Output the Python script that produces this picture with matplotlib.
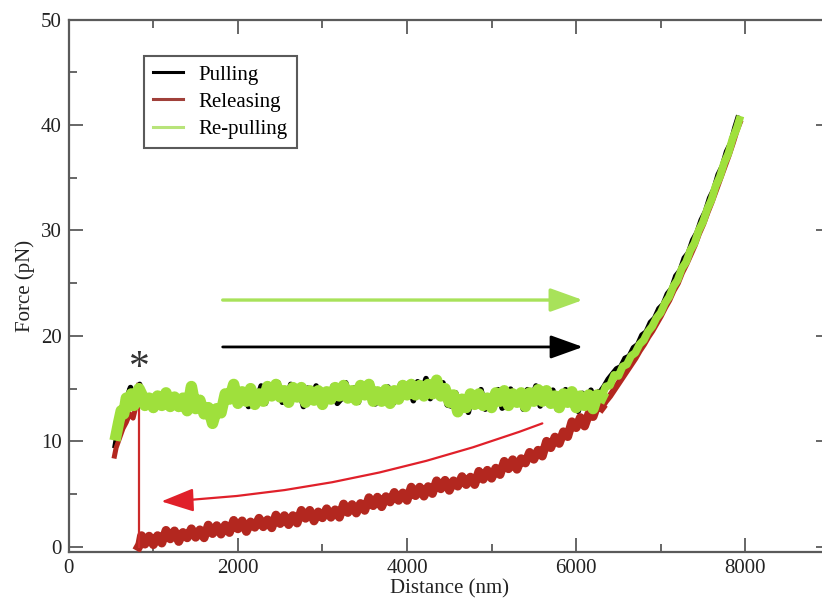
import matplotlib
matplotlib.use("Agg")
import matplotlib.pyplot as plt
from matplotlib.patches import ArrowStyle

plt.rcParams['font.family'] = ['Liberation Serif', 'DejaVu Serif']

# ---------------- data ----------------
pull_x = [550, 600, 650, 700, 730, 760, 800, 838, 870, 950, 1050, 1150, 1250, 1350, 1450, 1550, 1650, 1700, 1800, 1900,
          1925, 1975, 2025, 2075, 2125, 2175, 2225, 2275, 2325, 2375, 2425, 2475, 2525, 2575, 2625, 2675, 2725, 2775,
          2825, 2875, 2925, 2975, 3025, 3075, 3125, 3175, 3225, 3275, 3325, 3375, 3425, 3475, 3525, 3575, 3625, 3675,
          3725, 3775, 3825, 3875, 3925, 3975, 4025, 4075, 4125, 4175, 4225, 4275, 4325, 4375, 4425, 4475, 4525, 4575,
          4625, 4675, 4725, 4775, 4825, 4875, 4925, 4975, 5025, 5075, 5125, 5175, 5225, 5275, 5325, 5375, 5425, 5475,
          5525, 5575, 5625, 5675, 5725, 5775, 5825, 5875, 5925, 5975, 6025, 6075, 6125, 6175, 6225, 6275,
          6325, 6375, 6425, 6475, 6525, 6575, 6625, 6675, 6725, 6775, 6825, 6875, 6925, 6975, 7025, 7075, 7125, 7175,
          7225, 7275, 7325, 7375, 7425, 7475, 7525, 7575, 7625, 7675, 7725, 7775, 7825, 7875, 7910]
pull_y = [9.6, 11.9, 13.0, 14.4, 15.1, 13.6, 14.2, 15.4, 13.8, 13.9, 13.8, 13.9, 13.8, 13.6, 14.3, 13.3, 12.7, 12.3, 13.3, 14.2,
          13.85, 15.3, 13.85, 14.75, 13.3, 15.05, 13.95, 15.25, 13.6, 14.95, 14.2, 15.55, 13.7, 13.85, 15.4, 14.15, 14.9, 13.3,
          15.05, 14.05, 15.25, 13.45, 14.75, 13.95, 15.25, 13.6, 14.05, 15.55, 14.15, 15.05, 13.7, 15.45, 14.35, 15.5, 13.55, 14.65,
          13.75, 15.15, 13.55, 13.9, 15.45, 14.25, 15.25, 13.85, 15.65, 14.7, 15.95, 14.05, 15.3, 14.45, 15.55, 13.45, 13.35, 14.6,
          13.25, 14.2, 12.75, 14.5, 13.55, 14.9, 13.05, 14.25, 13.5, 14.9, 13.15, 13.4, 14.95, 13.7, 14.55, 13.05, 14.9, 14.0,
          15.25, 13.35, 14.55, 13.65, 14.85, 13.05, 13.35, 14.9, 13.55, 14.35, 12.85, 14.55, 13.5, 14.85, 13.2, 14.65,
          15.2, 15.9, 16.4, 16.9, 17.1, 17.9, 18.1, 18.9, 19.2, 20.1, 20.4, 21.3, 21.7, 22.6, 23.0, 24.0, 24.5, 25.7,
          26.2, 27.4, 27.9, 29.1, 29.8, 31.0, 31.8, 33.1, 33.9, 35.3, 36.1, 37.5, 38.3, 39.8, 40.7]

rel_x = [7930, 7900, 7850, 7800, 7750, 7700, 7650, 7600, 7550, 7500, 7450, 7400, 7350, 7300, 7250, 7200, 7150, 7100,
         7050, 7000, 6950, 6900, 6850, 6800, 6750, 6700, 6650, 6600, 6550, 6500, 6450, 6400, 6350, 6300,
         6250, 6200, 6150, 6100, 6050, 6000, 5950, 5900, 5850, 5800, 5750, 5700, 5650, 5600, 5550, 5500, 5450, 5400,
         5350, 5300, 5250, 5200, 5150, 5100, 5050, 5000, 4950, 4900, 4850, 4800, 4750, 4700, 4650, 4600, 4550, 4500,
         4450, 4400, 4350, 4300, 4250, 4200, 4150, 4100, 4050, 4000, 3950, 3900, 3850, 3800, 3750, 3700, 3650, 3600,
         3550, 3500, 3450, 3400, 3350, 3300, 3250, 3200, 3150, 3100, 3050, 3000, 2950, 2900, 2850, 2800, 2750, 2700,
         2650, 2600, 2550, 2500, 2450, 2400, 2350, 2300, 2250, 2200, 2150, 2100, 2050, 2000, 1950, 1900, 1850, 1800,
         1750, 1700, 1650, 1600, 1550, 1500, 1450, 1400, 1350, 1300, 1250, 1200, 1150, 1100, 1050, 1000, 950, 900,
         860, 840, 826, 826, 800, 760, 720, 680, 640, 600, 560, 540]
rel_y = [40.2, 39.6, 38.3, 37.1, 36.0, 34.9, 33.8, 32.7, 31.7, 30.6, 29.7, 28.6, 27.7, 26.8, 26.0, 25.0, 24.3, 23.4,
         22.7, 21.9, 21.2, 20.5, 19.9, 19.2, 18.6, 17.9, 17.3, 16.7, 16.1, 15.5, 14.9, 14.3, 13.8, 13.2,
         13.5, 12.35, 12.6, 11.45, 12.25, 11.3, 11.85, 10.45, 10.9, 9.8, 10.4, 9.4, 10.0, 8.6, 9.15, 8.3, 8.95, 7.95,
         8.35, 7.35, 8.25, 7.4, 8.1, 6.85, 7.45, 6.5, 7.25, 6.4, 7.15, 5.9, 6.6, 5.9, 6.65, 5.75, 6.25, 5.35,
         6.3, 5.5, 6.25, 5.05, 5.7, 4.8, 5.65, 4.85, 5.65, 4.4, 5.1, 4.4, 5.15, 4.25, 4.75, 3.8, 4.7, 3.9,
         4.65, 3.45, 4.1, 3.2, 4.0, 3.25, 4.05, 2.8, 3.5, 2.8, 3.6, 2.75, 3.3, 2.45, 3.45, 2.7, 3.45, 2.25,
         2.95, 2.1, 2.95, 2.2, 3.0, 1.8, 2.55, 1.9, 2.7, 1.85, 2.35, 1.45, 2.45, 1.7, 2.5, 1.35, 2.05, 1.2,
         2.0, 1.25, 2.05, 0.85, 1.6, 0.9, 1.7, 0.85, 1.35, 0.5, 1.5, 0.75, 1.55, 0.35, 1.05, 0.2, 1.0, 0.25,
         1.05, 0.2, 0.0, 15.3, 13.5, 12.2, 12.6, 11.8, 11.2, 10.3, 9.4, 8.6]

repull_x = [560, 590, 620, 650, 680, 710, 740, 770, 800, 830, 860, 900, 950, 1000, 1050, 1100, 1150, 1200, 1250, 1300,
            1350, 1400, 1450, 1500, 1550, 1600, 1650, 1700, 1750, 1800, 1850, 1900, 1950, 2000, 2050, 2100, 2150,
            2200, 2250, 2300, 2350, 2400, 2450, 2500, 2550, 2600, 2650, 2700, 2750, 2800, 2850, 2900, 2950, 3000,
            3050, 3100, 3150, 3200, 3250, 3300, 3350, 3400, 3450, 3500, 3550, 3600, 3650, 3700, 3750, 3800, 3850,
            3900, 3950, 4000, 4050, 4100, 4150, 4200, 4250, 4300, 4350, 4400, 4450, 4500, 4550, 4600, 4650, 4700,
            4750, 4800, 4850, 4900, 4950, 5000, 5050, 5100, 5150, 5200, 5250, 5300, 5350, 5400, 5450, 5500, 5550,
            5600, 5650, 5700, 5750, 5800, 5850, 5900, 5950, 6000, 6050, 6100, 6150, 6200, 6250, 6300,
            6350, 6400, 6450, 6500, 6550, 6600, 6650, 6700, 6750, 6800, 6850, 6900, 6950, 7000, 7050, 7100, 7150,
            7200, 7250, 7300, 7350, 7400, 7450, 7500, 7550, 7600, 7650, 7700, 7750, 7800, 7850, 7900, 7930]
repull_y = [10.6, 11.8, 12.9, 12.6, 14.1, 13.3, 14.5, 13.4, 14.4, 15.0, 14.5, 13.4, 14.1, 13.2, 14.3, 13.4, 14.6, 13.3, 14.2, 13.3,
            14.1, 12.9, 15.2, 13.1, 13.9, 12.6, 13.2, 11.7, 13.1, 12.7, 14.5, 14.0, 15.4, 13.6, 14.7, 13.8, 15.0,
            13.5, 14.5, 13.8, 15.2, 14.3, 15.4, 14.2, 14.8, 13.7, 15.1, 14.2, 15.1, 13.7, 14.8, 13.9, 14.8, 13.5,
            14.7, 14.0, 15.1, 14.3, 15.3, 14.1, 14.8, 13.9, 15.3, 14.4, 15.4, 13.8, 14.7, 13.8, 14.9, 13.6, 14.8,
            14.0, 15.3, 14.4, 15.4, 14.4, 15.3, 14.3, 15.4, 14.5, 15.8, 14.3, 15.0, 13.7, 14.4, 12.8, 14.0, 13.2,
            14.5, 13.5, 14.5, 13.4, 14.1, 13.2, 14.6, 13.8, 14.8, 13.4, 14.5, 13.7, 14.6, 13.3, 14.6, 13.8, 14.9,
            13.8, 14.8, 13.6, 14.3, 13.2, 14.5, 13.7, 14.7, 13.2, 14.3, 13.4, 14.4, 13.1, 14.4, 14.2,
            15.2, 15.3, 16.3, 16.2, 17.1, 17.3, 18.1, 18.4, 19.2, 19.6, 20.4, 20.9, 21.7, 22.2, 23.1, 23.7, 24.7,
            25.3, 26.4, 27.0, 28.1, 28.8, 30.0, 30.8, 32.0, 32.9, 34.2, 35.1, 36.4, 37.3, 38.7, 39.7, 40.5]

series_labels = ['Pulling', 'Releasing', 'Re-pulling']
series_colors = ['#000000', '#b3271f', '#9fe03c']
legend_colors = ['#000000', '#a0403a', '#b8e47a']

x_ticks = [0, 2000, 4000, 6000, 8000]
y_ticks = [0, 10, 20, 30, 40, 50]

# ---------------- figure ----------------
fig = plt.figure(figsize=(8.22, 6.0), dpi=100)
ax = fig.add_axes([68.8 / 822, 48.3 / 600, 761.0 / 822, 532.1 / 600])
ax.set_xlim(0, 9000)
ax.set_ylim(-0.47, 50)

spine_col = '#5a5a5a'
pk = pull_x.index(6275)
rk = rel_x.index(6300)
gk = repull_x.index(6300)
jump = rel_x.index(826)

# Pulling: plateau (noisy, wide) + rise (narrower)
ax.plot(pull_x[:pk + 1], pull_y[:pk + 1], color=series_colors[0], lw=4.0, zorder=3)
ax.plot(pull_x[pk:], pull_y[pk:], color=series_colors[0], lw=3.4, zorder=3)
# Releasing: rise, noisy decline, jump, left end
ax.plot(rel_x[:rk + 1], rel_y[:rk + 1], color=series_colors[1], lw=4.6, zorder=4)
ax.plot(rel_x[rk:jump + 1], rel_y[rk:jump + 1], color=series_colors[1], lw=6.4, zorder=4)
ax.plot(rel_x[jump:jump + 2], rel_y[jump:jump + 2], color='#cc2a2a', lw=1.6, zorder=4)
ax.plot(rel_x[jump + 1:], rel_y[jump + 1:], color=series_colors[1], lw=3.6, zorder=4)
# Re-pulling
ax.plot(repull_x[:gk + 1], repull_y[:gk + 1], color=series_colors[2], lw=8.2, zorder=5)
ax.plot(repull_x[gk:], repull_y[gk:], color=series_colors[2], lw=5.6, zorder=5)

# legend proxies
for lab, col in zip(series_labels, legend_colors):
    ax.plot([], [], color=col, lw=2.2, label=lab)
h, l = ax.get_legend_handles_labels()
leg = ax.legend(h[-3:], l[-3:], loc='upper left', bbox_to_anchor=(0.099, 0.931), fontsize=15,
                frameon=True, fancybox=False, borderaxespad=0, borderpad=0.42,
                handlelength=1.45, handletextpad=0.75, labelspacing=0.36)
leg.get_frame().set_edgecolor(spine_col)
leg.get_frame().set_linewidth(1.5)
leg.get_frame().set_alpha(1)

# arrows
head = ArrowStyle('-|>', head_length=1.0, head_width=0.36)
ax.annotate('', xy=(6080, 23.4), xytext=(1820, 23.4),
            arrowprops=dict(arrowstyle=head, mutation_scale=20, color='#a8e25a', lw=2.4,
                            shrinkA=0, shrinkB=0), zorder=6)
ax.annotate('', xy=(6080, 18.95), xytext=(1820, 18.95),
            arrowprops=dict(arrowstyle=head, mutation_scale=20, color='#000000', lw=2.0,
                            shrinkA=0, shrinkB=0), zorder=6)
ax.annotate('', xy=(1095, 4.3), xytext=(5600, 11.7),
            arrowprops=dict(arrowstyle=head, mutation_scale=20, color='#e0202a', lw=1.6,
                            shrinkA=0, shrinkB=0, connectionstyle='arc3,rad=-0.08'), zorder=6)

ax.text(840, 16.9, '*', fontsize=30, ha='center', va='center', color='#333333', zorder=7)

# axes styling
for s in ax.spines.values():
    s.set_color(spine_col)
    s.set_linewidth(1.6)
ax.set_xticks(x_ticks)
ax.set_yticks(y_ticks)
ax.set_xticks([1000, 3000, 5000, 7000, 9000], minor=True)
ax.set_yticks([5, 15, 25, 35, 45], minor=True)
ax.tick_params(which='both', direction='in', top=True, right=True, color=spine_col,
               labelsize=15, labelcolor='#222222')
ax.tick_params(which='major', length=10, width=1.3, pad=5)
ax.tick_params(which='minor', length=5.5, width=1.3)
ax.set_xlabel('Distance (nm)', fontsize=15, labelpad=1, color='#222222')
ax.set_ylabel('Force (pN)', fontsize=15, labelpad=4, color='#222222')

fig.savefig('out.png', dpi=100)
